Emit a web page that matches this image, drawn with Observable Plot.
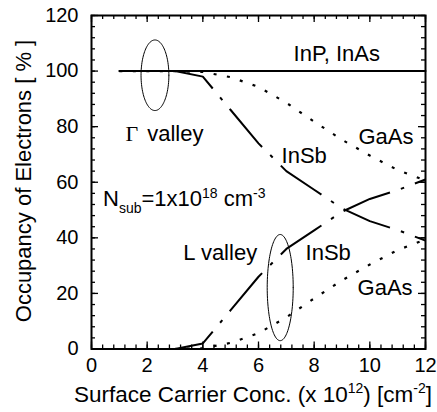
<!DOCTYPE html>
<html>
<head>
<meta charset="utf-8">
<script src="https://cdn.jsdelivr.net/npm/d3@7"></script>
<script src="https://cdn.jsdelivr.net/npm/@observablehq/plot@0.6"></script>
<style>
  html, body { margin: 0; padding: 0; background: #fff; }
  #chart svg { display: block; }
</style>
</head>
<body>
<div id="chart"></div>
<script>
// Surface carrier concentration (x 10^12 cm^-2)
const conc = [1, 2, 3, 4, 5, 6, 7, 8, 9, 10, 11, 12];
// Occupancy of electrons [%]
const inpInAsGamma = [100, 100, 100, 100, 100, 100, 100, 100, 100, 100, 100, 100];
const gaasGamma = [100, 100, 100, 99.7, 97.8, 94.3, 88.6, 81.8, 75.3, 69.6, 64.4, 60.6];
const gaasL     = [0, 0, 0, 0.3, 2.2, 5.7, 11.4, 18.2, 24.7, 30.4, 35.6, 39.4];
const insbGamma = [100, 100, 100, 98, 86, 74, 64, 57.3, 50.6, 46, 42.8, 39];
const insbL     = [0, 0, 0, 2, 14, 26, 36, 42.7, 49.4, 54, 57.2, 61];

// Tick values
const xMajor = [0, 2, 4, 6, 8, 10, 12];
const xMinor = d3.range(0, 31).map(i => i * 0.4);
const yMajor = [0, 20, 40, 60, 80, 100, 120];
const yMinor = d3.range(0, 31).map(i => i * 4);

// Annotation labels
const labelText = ["InP, InAs", "InSb", "GaAs", "L valley", "InSb", "GaAs", "valley"];
const labelX    = [7.26, 6.83, 9.59, 3.3, 7.69, 9.56, 2.0];
const labelY    = [106, 69.6, 76.3, 34.5, 34.7, 22, 77.5];
const gammaSymbol = ["Γ"];
const gammaX = [1.22];
const gammaY = [77.5];

// Valley ellipses (center, radii in data units)
const ellCx = [2.28, 6.78];
const ellCy = [98.5, 22.1];
const ellRx = [0.5, 0.467];
const ellRy = [12.7, 19.1];

const rows = arr => conc.map((c, i) => ({c, v: arr[i]}));
const labels = labelText.map((t, i) => ({t, x: labelX[i], y: labelY[i]}));
const ellPts = [];
ellCx.forEach((cx, k) => {
  for (let j = 0; j <= 120; j++) {
    const a = (j / 120) * 2 * Math.PI;
    ellPts.push({id: k, x: cx + ellRx[k] * Math.cos(a), y: ellCy[k] + ellRy[k] * Math.sin(a)});
  }
});

const W = 437, H = 412, mL = 91, mR = 12, mT = 15, mB = 63.5;
const plotW = W - mL - mR, plotH = H - mT - mB;
const majorLen = 7, minorLen = 4;

const insbDash = "50,11.5,3.5,11.5";
const gaasDot = "3,10.5";
const tickStyle = {stroke: "black", strokeWidth: 1.3};

const svg = Plot.plot({
  width: W,
  height: H,
  marginLeft: mL,
  marginRight: mR,
  marginTop: mT,
  marginBottom: mB,
  x: {domain: [0, 12], label: null},
  y: {domain: [0, 120], label: null},
  style: {fontFamily: "'Liberation Sans', Arial, sans-serif", fontSize: "20px", color: "black", background: "white"},
  marks: [
    // inward ticks on all four sides
    Plot.tickX(xMinor, {x: d => d, insetTop: plotH - minorLen, ...tickStyle}),
    Plot.tickX(xMajor, {x: d => d, insetTop: plotH - majorLen, ...tickStyle}),
    Plot.tickX(xMinor, {x: d => d, insetBottom: plotH - minorLen, ...tickStyle}),
    Plot.tickX(xMajor, {x: d => d, insetBottom: plotH - majorLen, ...tickStyle}),
    Plot.tickY(yMinor, {y: d => d, insetRight: plotW - minorLen, ...tickStyle}),
    Plot.tickY(yMajor, {y: d => d, insetRight: plotW - majorLen, ...tickStyle}),
    Plot.tickY(yMinor, {y: d => d, insetLeft: plotW - minorLen, ...tickStyle}),
    Plot.tickY(yMajor, {y: d => d, insetLeft: plotW - majorLen, ...tickStyle}),
    // tick labels
    Plot.axisX(xMajor, {tickSize: 0, tickPadding: 9, label: null, fontSize: 20}),
    Plot.axisY(yMajor, {tickSize: 0, tickPadding: 13, label: null, fontSize: 20}),
    // curves
    Plot.line(rows(gaasGamma), {x: "c", y: "v", stroke: "black", strokeWidth: 2.2, strokeDasharray: gaasDot, strokeLinecap: "butt"}),
    Plot.line(rows(gaasL), {x: "c", y: "v", stroke: "black", strokeWidth: 2.2, strokeDasharray: gaasDot, strokeLinecap: "butt"}),
    Plot.line(rows(insbGamma), {x: "c", y: "v", stroke: "black", strokeWidth: 2, strokeDasharray: insbDash, strokeDashoffset: 27, strokeLinecap: "butt"}),
    Plot.line(rows(insbL), {x: "c", y: "v", stroke: "black", strokeWidth: 2, strokeDasharray: insbDash, strokeDashoffset: 27, strokeLinecap: "butt"}),
    Plot.line(rows(inpInAsGamma), {x: "c", y: "v", stroke: "black", strokeWidth: 2}),
    // ellipses
    Plot.line(ellPts, {x: "x", y: "y", z: "id", stroke: "black", strokeWidth: 1}),
    // labels
    Plot.text(labels, {x: "x", y: "y", text: "t", textAnchor: "start", lineAnchor: "middle", fontSize: 22, fill: "black"}),
    Plot.text(gammaSymbol, {x: () => gammaX[0], y: () => gammaY[0], text: d => d, textAnchor: "start", lineAnchor: "middle", fontSize: 22, fontFamily: "'Liberation Serif', 'Times New Roman', serif", fill: "black"}),
    Plot.frame({stroke: "black", strokeWidth: 2})
  ]
});

const s = d3.select(svg);

// N_sub annotation
const nsub = s.append("text")
  .attr("x", 103).attr("y", 206)
  .attr("text-anchor", "start")
  .attr("font-size", 22).attr("fill", "black");
nsub.append("tspan").text("N");
nsub.append("tspan").attr("font-size", 14).attr("dy", 7).text("sub");
nsub.append("tspan").attr("dy", -7).text("=1x10");
nsub.append("tspan").attr("font-size", 14).attr("dy", -8).text("18");
nsub.append("tspan").attr("dy", 8).text(" cm");
nsub.append("tspan").attr("font-size", 14).attr("dy", -8).text("-3");

// x-axis title
const xt = s.append("text")
  .attr("x", 253).attr("y", 402)
  .attr("text-anchor", "middle").attr("font-size", 22.5).attr("fill", "black");
xt.append("tspan").text("Surface Carrier Conc. (x 10");
xt.append("tspan").attr("font-size", 14).attr("dy", -9).text("12");
xt.append("tspan").attr("dy", 9).text(") [cm");
xt.append("tspan").attr("font-size", 14).attr("dy", -9).text("-2");
xt.append("tspan").attr("dy", 9).text("]");

// y-axis title
s.append("text")
  .attr("transform", "translate(31,181) rotate(-90)")
  .attr("text-anchor", "middle").attr("font-size", 22).attr("fill", "black")
  .text("Occupancy of Electrons [ % ]");

document.getElementById("chart").appendChild(svg);
</script>
</body>
</html>
